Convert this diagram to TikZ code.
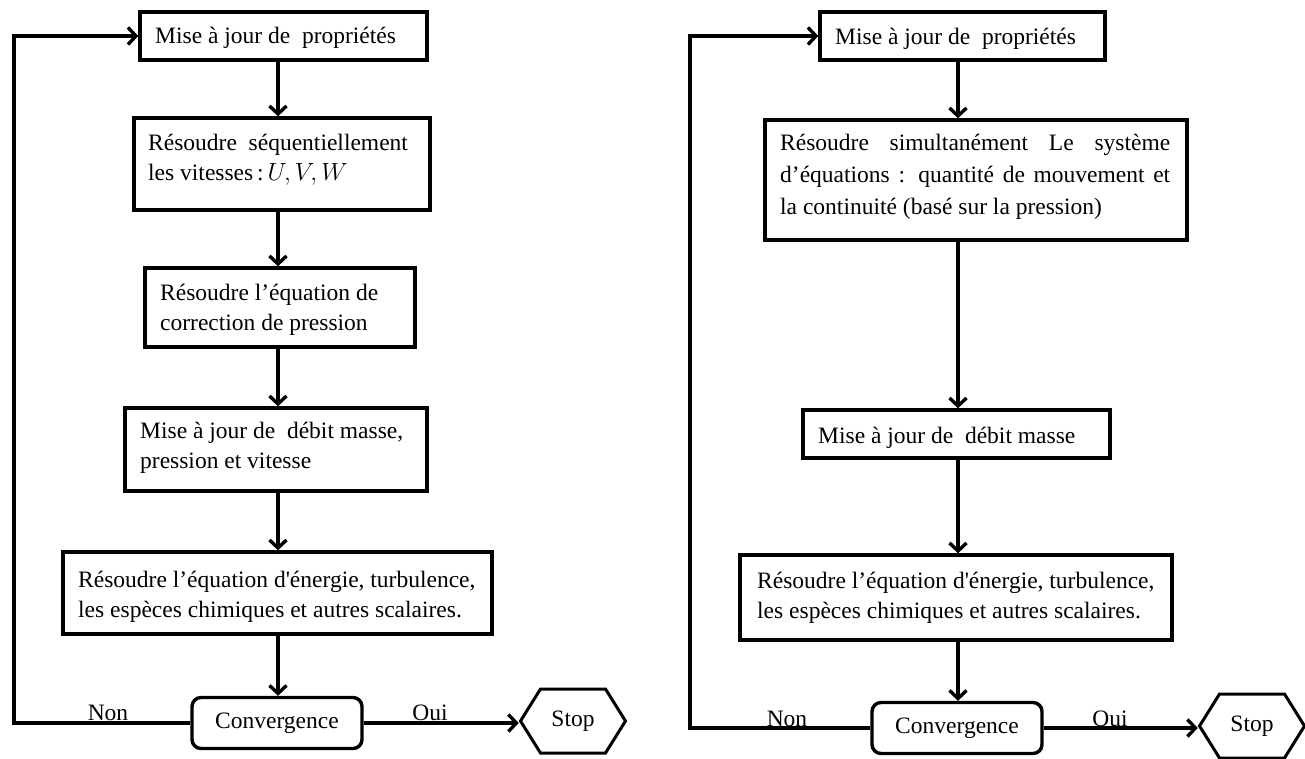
\documentclass[tikz,border=0pt]{standalone}
\usepackage{fontspec}
\setmainfont{Liberation Serif}
\usetikzlibrary{arrows.meta,shapes.symbols,calc}
\begin{document}
\begin{tikzpicture}[x=1pt,y=-1pt,
  box/.style={draw, line width=3.4pt, rectangle, inner sep=0pt},
  lbl/.style={anchor=north west, inner sep=0pt, align=left, font=\fontsize{23.5}{30}\selectfont},
  conv/.style={draw, line width=3.4pt, rounded corners=9pt, minimum width=170pt, minimum height=51pt, inner sep=0pt, font=\fontsize{23.5}{25}\selectfont},
  stopnode/.style={draw, line width=3pt, shape=signal, signal to=west and east, signal pointer angle=116, minimum width=105pt, minimum height=64pt, inner sep=0pt, font=\fontsize{23.5}{25}\selectfont},
  arr/.style={line width=3.4pt, -{Straight Barb[length=8pt,width=17pt,line width=3.4pt]}},
  yn/.style={inner sep=0pt, font=\fontsize{23.5}{25}\selectfont}
]
\useasboundingbox (0,0) rectangle (1305,759);
\fill[white] (0,0) rectangle (1305,759);

% ---------- left diagram ----------
\coordinate (lcol) at (278,0);
\coordinate (lx) at (14,0);
\node[box, minimum width=287pt, minimum height=48pt] (lb1) at (283.5,36) {};
\node[box, minimum width=296pt, minimum height=92pt] (lb2) at (282,164) {};
\node[box, minimum width=270pt, minimum height=79pt] (lb3) at (280,307.5) {};
\node[box, minimum width=302pt, minimum height=83pt] (lb4) at (276,449.5) {};
\node[box, minimum width=429pt, minimum height=82pt] (lb5) at (277.5,593) {};
\node[conv] (lconv) at (277,723) {Convergence};
\node[stopnode] (lstop) at (573,721) {Stop};

\node[lbl] (lt1) at (155,22) {\strut Mise à jour de\ \ propriétés};
\node[lbl] (lt2) at (148,129) {\strut Résoudre\ \ séquentiellement\\\strut les vitesses\,:\,$U,V,W$};
\node[lbl] (lt3) at (160,279) {\strut Résoudre l’équation de\\\strut correction de pression};
\node[lbl] (lt4) at (140,417) {\strut Mise à jour de\ \ débit masse,\\\strut pression et vitesse};
\node[lbl] (lt5) at (78,566) {\strut Résoudre l’équation d\textquotesingle énergie, turbulence,\\\strut les espèces chimiques et autres scalaires.};

\draw[arr] (lb1.south -| lcol) -- (lb2.north -| lcol);
\draw[arr] (lb2.south -| lcol) -- (lb3.north -| lcol);
\draw[arr] (lb3.south -| lcol) -- (lb4.north -| lcol);
\draw[arr] (lb4.south -| lcol) -- (lb5.north -| lcol);
\draw[arr] (lb5.south -| lcol) -- (lconv.north -| lcol);
\draw[arr] (lconv.east) -- (lconv.east -| lstop.west);
\draw[arr] (lconv.west) -- (lconv.west -| lx) -- (lb1.west -| lx) -- (lb1.west);
\node[yn] (lnon) at (108,713) {Non};
\node[yn] (loui) at (430,713) {Oui};

% ---------- right diagram ----------
\coordinate (rcol) at (958,0);
\coordinate (rx) at (690,0);
\node[box, minimum width=285pt, minimum height=48pt] (rb1) at (962.5,36) {};
\node[box, minimum width=422pt, minimum height=120pt] (rb2) at (976,180) {};
\node[box, minimum width=307pt, minimum height=48pt] (rb3) at (956.5,434) {};
\node[box, minimum width=432pt, minimum height=85pt] (rb4) at (956,597.5) {};
\node[conv] (rconv) at (957,728) {Convergence};
\node[stopnode] (rstop) at (1252,726) {Stop};

\node[lbl] (rt1) at (835,23) {\strut Mise à jour de\ \ propriétés};
\node[lbl, font=\fontsize{23.5}{32}\selectfont] (rt2) at (780,128) {\strut\makebox[390pt][s]{Résoudre simultanément Le système}\\\strut\makebox[390pt][s]{d’équations : quantité de mouvement et}\\\strut la continuité (basé sur la pression)};
\node[lbl] (rt3) at (818,422) {\strut Mise à jour de\ \ débit masse};
\node[lbl] (rt4) at (757,567) {\strut Résoudre l’équation d\textquotesingle énergie, turbulence,\\\strut les espèces chimiques et autres scalaires.};

\draw[arr] (rb1.south -| rcol) -- (rb2.north -| rcol);
\draw[arr] (rb2.south -| rcol) -- (rb3.north -| rcol);
\draw[arr] (rb3.south -| rcol) -- (rb4.north -| rcol);
\draw[arr] (rb4.south -| rcol) -- (rconv.north -| rcol);
\draw[arr] (rconv.east) -- (rconv.east -| rstop.west);
\draw[arr] (rconv.west) -- (rconv.west -| rx) -- (rb1.west -| rx) -- (rb1.west);
\node[yn] (rnon) at (787,719) {Non};
\node[yn] (roui) at (1110,719) {Oui};
\end{tikzpicture}
\end{document}
